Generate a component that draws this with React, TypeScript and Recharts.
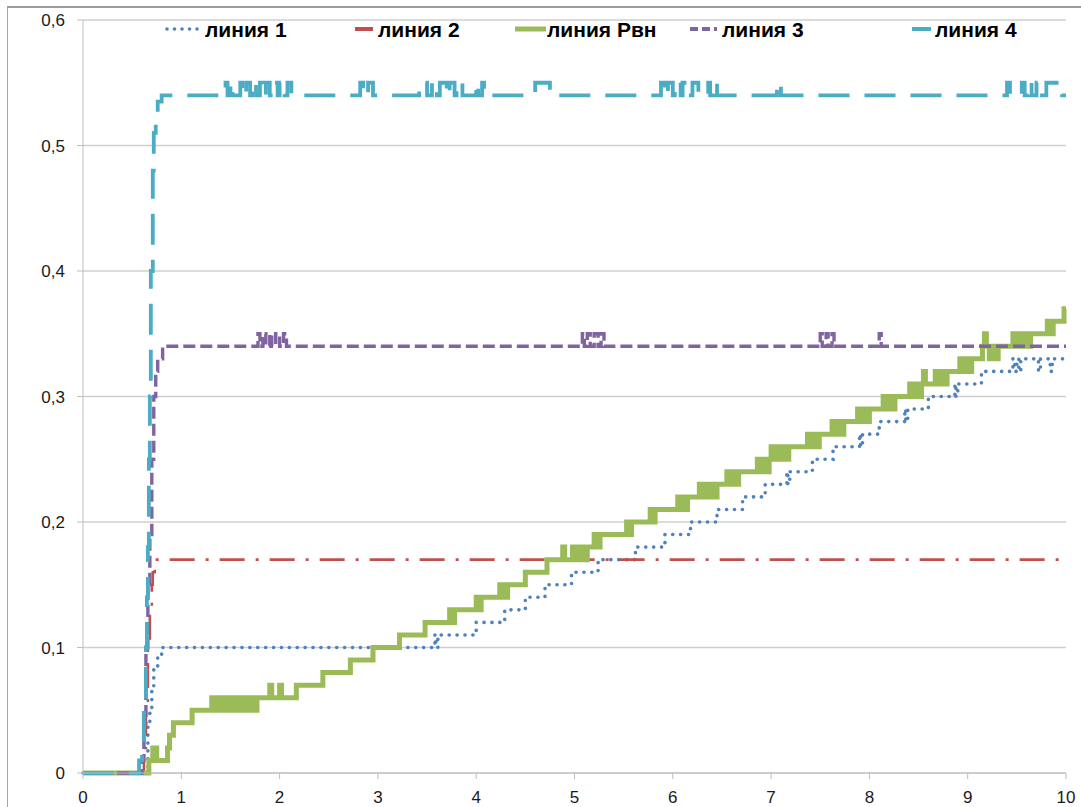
import { CartesianGrid, Line, LineChart, XAxis, YAxis } from 'recharts'

const xTicks = [0, 1, 2, 3, 4, 5, 6, 7, 8, 9, 10]
const yTicks = [0, 0.1, 0.2, 0.3, 0.4, 0.5, 0.6]

// [x, y] pairs, drawn as steps
const line1Points: [number, number][] = [
  [0, 0], [0.65, 0], [0.66, 0.04], [0.68, 0.05], [0.7, 0.066], [0.72, 0.085], [0.76, 0.094], [0.8, 0.1],
  [3.58, 0.11], [3.59, 0.1], [3.61, 0.11],
  [4.0, 0.12], [4.29, 0.13], [4.5, 0.14], [4.7, 0.15], [4.97, 0.16], [5.24, 0.17], [5.62, 0.18],
  [5.92, 0.19], [6.18, 0.2], [6.45, 0.21], [6.71, 0.22], [6.94, 0.23],
  [7.16, 0.24], [7.17, 0.23], [7.19, 0.24], [7.42, 0.25], [7.63, 0.26],
  [7.9, 0.27], [7.91, 0.26], [7.93, 0.27], [8.1, 0.28], [8.36, 0.29], [8.37, 0.28], [8.39, 0.29],
  [8.6, 0.3], [8.87, 0.31], [8.88, 0.3], [8.9, 0.31], [9.14, 0.32],
  [9.46, 0.33], [9.48, 0.32], [9.5, 0.33], [9.52, 0.32], [9.54, 0.33],
  [9.72, 0.32], [9.74, 0.33], [9.84, 0.32], [9.86, 0.33], [10, 0.33],
]

const line2Points: [number, number][] = [
  [0, 0], [0.6, 0], [0.62, 0.02], [0.64, 0.05], [0.66, 0.1], [0.68, 0.13], [0.7, 0.15], [0.71, 0.16],
  [0.73, 0.17], [10, 0.17],
]

const pvnPoints: [number, number][] = [
  [0, 0], [0.66, 0], [0.67, 0.01], [0.71, 0.02], [0.75, 0.01], [0.86, 0.02], [0.88, 0.03], [0.92, 0.04],
  [1.11, 0.05],
  [1.31, 0.06], [1.33, 0.05], [1.37, 0.06], [1.39, 0.05], [1.43, 0.06], [1.45, 0.05], [1.49, 0.06],
  [1.51, 0.05], [1.55, 0.06], [1.57, 0.05], [1.61, 0.06], [1.63, 0.05], [1.67, 0.06], [1.69, 0.05],
  [1.73, 0.06], [1.75, 0.05], [1.77, 0.06],
  [1.9, 0.07], [1.92, 0.06], [2.0, 0.07], [2.02, 0.06],
  [2.17, 0.07], [2.44, 0.08], [2.72, 0.09], [2.95, 0.1], [3.22, 0.11], [3.48, 0.12],
  [3.73, 0.13], [3.76, 0.12], [3.78, 0.13],
  [4.0, 0.14], [4.03, 0.13], [4.05, 0.14],
  [4.24, 0.15], [4.26, 0.14], [4.28, 0.15], [4.3, 0.14], [4.32, 0.15],
  [4.5, 0.16], [4.72, 0.17], [4.88, 0.18], [4.9, 0.17],
  [4.98, 0.18], [5.0, 0.17], [5.03, 0.18], [5.05, 0.17], [5.08, 0.18], [5.1, 0.17], [5.13, 0.18],
  [5.2, 0.19], [5.22, 0.18],
  [5.26, 0.19], [5.53, 0.2], [5.56, 0.19], [5.58, 0.2],
  [5.77, 0.21], [5.8, 0.2], [5.82, 0.21],
  [6.05, 0.22], [6.08, 0.21], [6.1, 0.22], [6.13, 0.21], [6.15, 0.22],
  [6.27, 0.23], [6.3, 0.22], [6.33, 0.23], [6.36, 0.22], [6.39, 0.23], [6.42, 0.22], [6.45, 0.23],
  [6.55, 0.24], [6.58, 0.23], [6.61, 0.24], [6.64, 0.23], [6.67, 0.24],
  [6.86, 0.25], [6.89, 0.24], [6.92, 0.25], [6.95, 0.24], [6.98, 0.25], [7.0, 0.26], [7.02, 0.25],
  [7.06, 0.26], [7.09, 0.25], [7.12, 0.26], [7.15, 0.25], [7.18, 0.26],
  [7.37, 0.27], [7.4, 0.26], [7.43, 0.27], [7.46, 0.26], [7.49, 0.27],
  [7.62, 0.28], [7.65, 0.27], [7.68, 0.28], [7.71, 0.27], [7.74, 0.28],
  [7.88, 0.29], [7.91, 0.28], [7.94, 0.29], [7.97, 0.28], [8.0, 0.29],
  [8.14, 0.3], [8.17, 0.29], [8.2, 0.3], [8.23, 0.29], [8.26, 0.3],
  [8.41, 0.31], [8.44, 0.3], [8.47, 0.31], [8.5, 0.3], [8.53, 0.31], [8.55, 0.32], [8.57, 0.31],
  [8.67, 0.32], [8.7, 0.31], [8.73, 0.32], [8.76, 0.31], [8.79, 0.32],
  [8.92, 0.33], [8.95, 0.32], [8.98, 0.33], [9.01, 0.32], [9.04, 0.33],
  [9.15, 0.34], [9.17, 0.35], [9.19, 0.34], [9.22, 0.33], [9.25, 0.34], [9.28, 0.33], [9.31, 0.34],
  [9.46, 0.35], [9.49, 0.34], [9.52, 0.35], [9.55, 0.34], [9.58, 0.35], [9.61, 0.34], [9.64, 0.35],
  [9.81, 0.36], [9.84, 0.35], [9.87, 0.36],
  [9.98, 0.37], [10, 0.37],
]

const line3Points: [number, number][] = [
  [0, 0], [0.58, 0], [0.6, 0.01], [0.62, 0.04], [0.64, 0.1], [0.66, 0.15], [0.68, 0.19], [0.7, 0.25],
  [0.72, 0.3], [0.74, 0.32], [0.76, 0.33], [0.81, 0.34],
  [1.78, 0.35], [1.8, 0.34], [1.83, 0.35], [1.86, 0.34], [1.9, 0.35], [1.92, 0.34], [1.96, 0.35],
  [2.0, 0.34], [2.04, 0.35], [2.07, 0.34],
  [5.08, 0.35], [5.1, 0.34], [5.13, 0.35], [5.16, 0.34], [5.2, 0.35], [5.24, 0.34], [5.27, 0.35],
  [5.3, 0.34],
  [7.5, 0.35], [7.52, 0.34], [7.56, 0.35], [7.58, 0.34], [7.62, 0.35], [7.64, 0.34],
  [8.1, 0.35], [8.12, 0.34], [10, 0.34],
]

const line4Points: [number, number][] = [
  [0, 0], [0.56, 0], [0.57, 0.01], [0.6, 0.02], [0.62, 0.06], [0.64, 0.1], [0.65, 0.14], [0.66, 0.18],
  [0.67, 0.25], [0.68, 0.3], [0.69, 0.4], [0.71, 0.48], [0.72, 0.51], [0.74, 0.525], [0.76, 0.535],
  [0.8, 0.54],
  [1.45, 0.55], [1.47, 0.54], [1.5, 0.55], [1.52, 0.54],
  [1.6, 0.55], [1.62, 0.54], [1.66, 0.55], [1.7, 0.54], [1.72, 0.55], [1.76, 0.54], [1.8, 0.55],
  [1.83, 0.54], [1.86, 0.55], [1.9, 0.54], [1.93, 0.55], [1.98, 0.54], [2.0, 0.55], [2.05, 0.54],
  [2.08, 0.55], [2.12, 0.54],
  [2.82, 0.55], [2.85, 0.54], [2.9, 0.55], [2.95, 0.54],
  [3.42, 0.55], [3.5, 0.54], [3.55, 0.55], [3.6, 0.54], [3.63, 0.55], [3.7, 0.54], [3.73, 0.55],
  [3.78, 0.54], [3.8, 0.55], [3.86, 0.54],
  [4.0, 0.55], [4.02, 0.54], [4.06, 0.55], [4.08, 0.54],
  [4.6, 0.55], [4.75, 0.54],
  [5.88, 0.55], [5.92, 0.54], [5.95, 0.55], [6.0, 0.54], [6.02, 0.55], [6.08, 0.54], [6.1, 0.55],
  [6.15, 0.54], [6.2, 0.55], [6.26, 0.54],
  [6.36, 0.55], [6.38, 0.54], [6.42, 0.55], [6.45, 0.54],
  [7.06, 0.55], [7.1, 0.54],
  [9.4, 0.55], [9.43, 0.54], [9.55, 0.55], [9.58, 0.54], [9.62, 0.55], [9.65, 0.54], [9.7, 0.55],
  [9.73, 0.54], [9.8, 0.55], [9.96, 0.54], [10, 0.54],
]

function toRows(points: [number, number][]) {
  return points.map(([x, y]) => ({ x, y }))
}

const series = [
  { name: 'линия 1', color: '#4F81BD', points: line1Points, width: 3.6, dash: '0.1 7.8', cap: 'round' },
  { name: 'линия 2', color: '#C0504D', points: line2Points, width: 2.6, dash: '25 11 3 11', cap: 'butt' },
  { name: 'линия Pвн', color: '#9BBB59', points: pvnPoints, width: 5, dash: undefined, cap: 'butt' },
  { name: 'линия 3', color: '#8064A2', points: line3Points, width: 3.4, dash: '12 5', cap: 'butt' },
  { name: 'линия 4', color: '#4BACC6', points: line4Points, width: 3.8, dash: '31 15', cap: 'butt' },
]

const legendFont = "'Liberation Sans Narrow', 'Liberation Sans', Arial, sans-serif"

function LegendOverlay() {
  const textStyle = { fontFamily: legendFont, fontWeight: 700, fontSize: 21, fill: '#000' }
  return (
    <svg width={1081} height={50} style={{ position: 'absolute', left: 0, top: 0 }}>
      {[0, 1, 2, 3, 4].map((i) => (
        <circle key={i} cx={167 + i * 7.5} cy={29} r={1.8} fill="#4F81BD" />
      ))}
      <text x={205} y={37} style={textStyle}>линия 1</text>
      <line x1={355} x2={373} y1={29} y2={29} stroke="#C0504D" strokeWidth={4} />
      <text x={378} y={37} style={textStyle}>линия 2</text>
      <line x1={515} x2={546} y1={29} y2={29} stroke="#9BBB59" strokeWidth={5} />
      <text x={547} y={37} style={textStyle}>линия Pвн</text>
      <line x1={690} x2={720} y1={29} y2={29} stroke="#8064A2" strokeWidth={4} strokeDasharray="8 4 8 4 3 3" />
      <text x={722} y={37} style={textStyle}>линия 3</text>
      <line x1={912} x2={931} y1={29} y2={29} stroke="#4BACC6" strokeWidth={4} />
      <text x={935} y={37} style={textStyle}>линия 4</text>
    </svg>
  )
}

export default function App() {
  const tickStyle = { fontFamily: "'Liberation Sans', Arial, sans-serif", fontSize: 17, fill: '#1a1a1a' }
  return (
    <div
      style={{
        position: 'fixed',
        left: 0,
        top: 0,
        width: 1081,
        height: 807,
        overflow: 'hidden',
        background: '#fff',
      }}
    >
      <div
        style={{
          position: 'absolute',
          left: 7,
          top: 6,
          width: 1100,
          height: 830,
          borderTop: '2px solid #9a9a9a',
          borderLeft: '1px solid #a6a6a6',
        }}
      />
      <LineChart
        width={1081}
        height={807}
        margin={{ top: 20, right: 15, bottom: 0, left: 0 }}
        style={{ position: 'absolute', left: 0, top: 0 }}
      >
        <CartesianGrid horizontal vertical={false} stroke="#cfcfcf" strokeWidth={1.3} />
        <XAxis
          dataKey="x"
          type="number"
          domain={[0, 10]}
          ticks={xTicks}
          allowDuplicatedCategory={false}
          height={34}
          tickSize={6}
          tickMargin={12}
          stroke="#bdbdbd"
          tick={tickStyle}
        />
        <YAxis
          type="number"
          domain={[0, 0.6]}
          ticks={yTicks}
          width={83}
          tickSize={6}
          tickMargin={12}
          stroke="#bdbdbd"
          tick={tickStyle}
          tickFormatter={(v: number) => String(v).replace('.', ',')}
        />
        {series.map((s) => (
          <Line
            key={s.name}
            name={s.name}
            data={toRows(s.points)}
            dataKey="y"
            type="stepAfter"
            stroke={s.color}
            strokeWidth={s.width}
            strokeDasharray={s.dash}
            strokeLinecap={s.cap as 'round' | 'butt'}
            dot={false}
            activeDot={false}
            isAnimationActive={false}
          />
        ))}
      </LineChart>
      <LegendOverlay />
    </div>
  )
}
